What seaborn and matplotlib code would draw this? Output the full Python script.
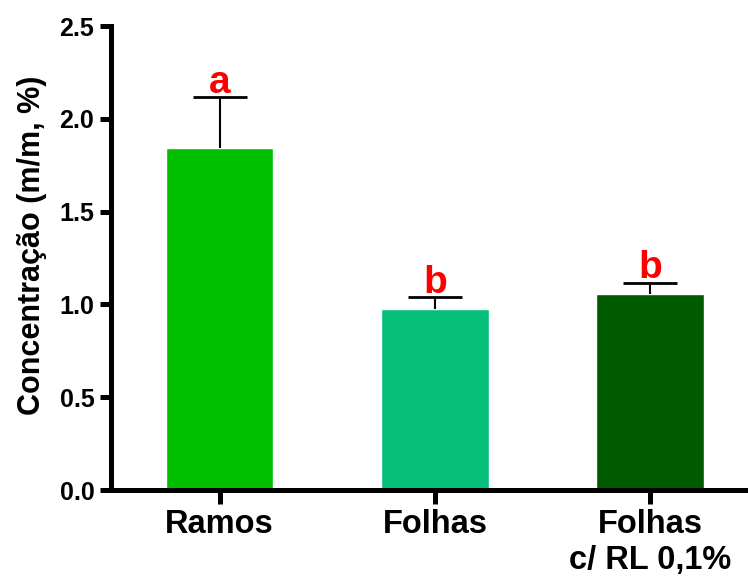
import matplotlib
matplotlib.use('Agg')
import matplotlib.pyplot as plt
import numpy as np
import pandas as pd
import seaborn as sns

# values
grupos = ['Ramos', 'Folhas', 'Folhas\nc/ RL 0,1%']
media = [1.845, 0.975, 1.055]
erro_sup = [0.27, 0.063, 0.06]
letras = ['a', 'b', 'b']
cores = ['#00C000', '#06BF7A', '#005A00']

sns.set_style('ticks')
plt.rcParams['font.family'] = ['Liberation Sans', 'DejaVu Sans']
plt.rcParams['font.weight'] = 'bold'
for k in ('text.color', 'axes.edgecolor', 'axes.labelcolor',
          'xtick.color', 'ytick.color'):
    plt.rcParams[k] = 'black'

df = pd.DataFrame({'grupo': grupos, 'conc': media})

fig = plt.figure(figsize=(7.48, 5.83), dpi=100)
ax = fig.add_axes([0.1484, 0.1595, 0.8516, 0.7959])

sns.barplot(x='grupo', y='conc', data=df, hue='grupo', palette=cores,
            order=grupos, hue_order=grupos, legend=False, width=0.5,
            errorbar=None, saturation=1, ax=ax)

# upper-only error bars, like the original
xpos = np.arange(len(grupos))
eb = ax.errorbar(xpos, media, yerr=[np.zeros(len(media)), erro_sup],
                 fmt='none', ecolor='black', elinewidth=1.5, capsize=19.4,
                 capthick=2, zorder=1)
eb[1][0].set_visible(False)  # drop the cap sitting on the bar top

for x, m, e, l in zip(xpos, media, erro_sup, letras):
    ax.text(x, m + e + 0.025, l, color='red', fontsize=28, fontweight='bold',
            ha='center', va='baseline')

ax.set_xlim(-0.504, 2.454)
ax.set_ylim(0, 2.5)
ax.set_yticks([0, 0.5, 1.0, 1.5, 2.0, 2.5])
ax.set_yticklabels(['0.0', '0.5', '1.0', '1.5', '2.0', '2.5'])

for s in ('top', 'right'):
    ax.spines[s].set_visible(False)
for s in ('left', 'bottom'):
    ax.spines[s].set_linewidth(3.6)
ax.tick_params(axis='y', length=8, width=3.6, labelsize=18, pad=4)
ax.tick_params(axis='x', length=10, width=3.6, labelsize=23.5, pad=4)

ax.set_xlabel('')
ax.set_ylabel('Concentração (m/m, %)', fontsize=22, fontweight='bold')
ax.yaxis.set_label_coords(-0.10, 0.527)

fig.savefig('out.png', dpi=100)
